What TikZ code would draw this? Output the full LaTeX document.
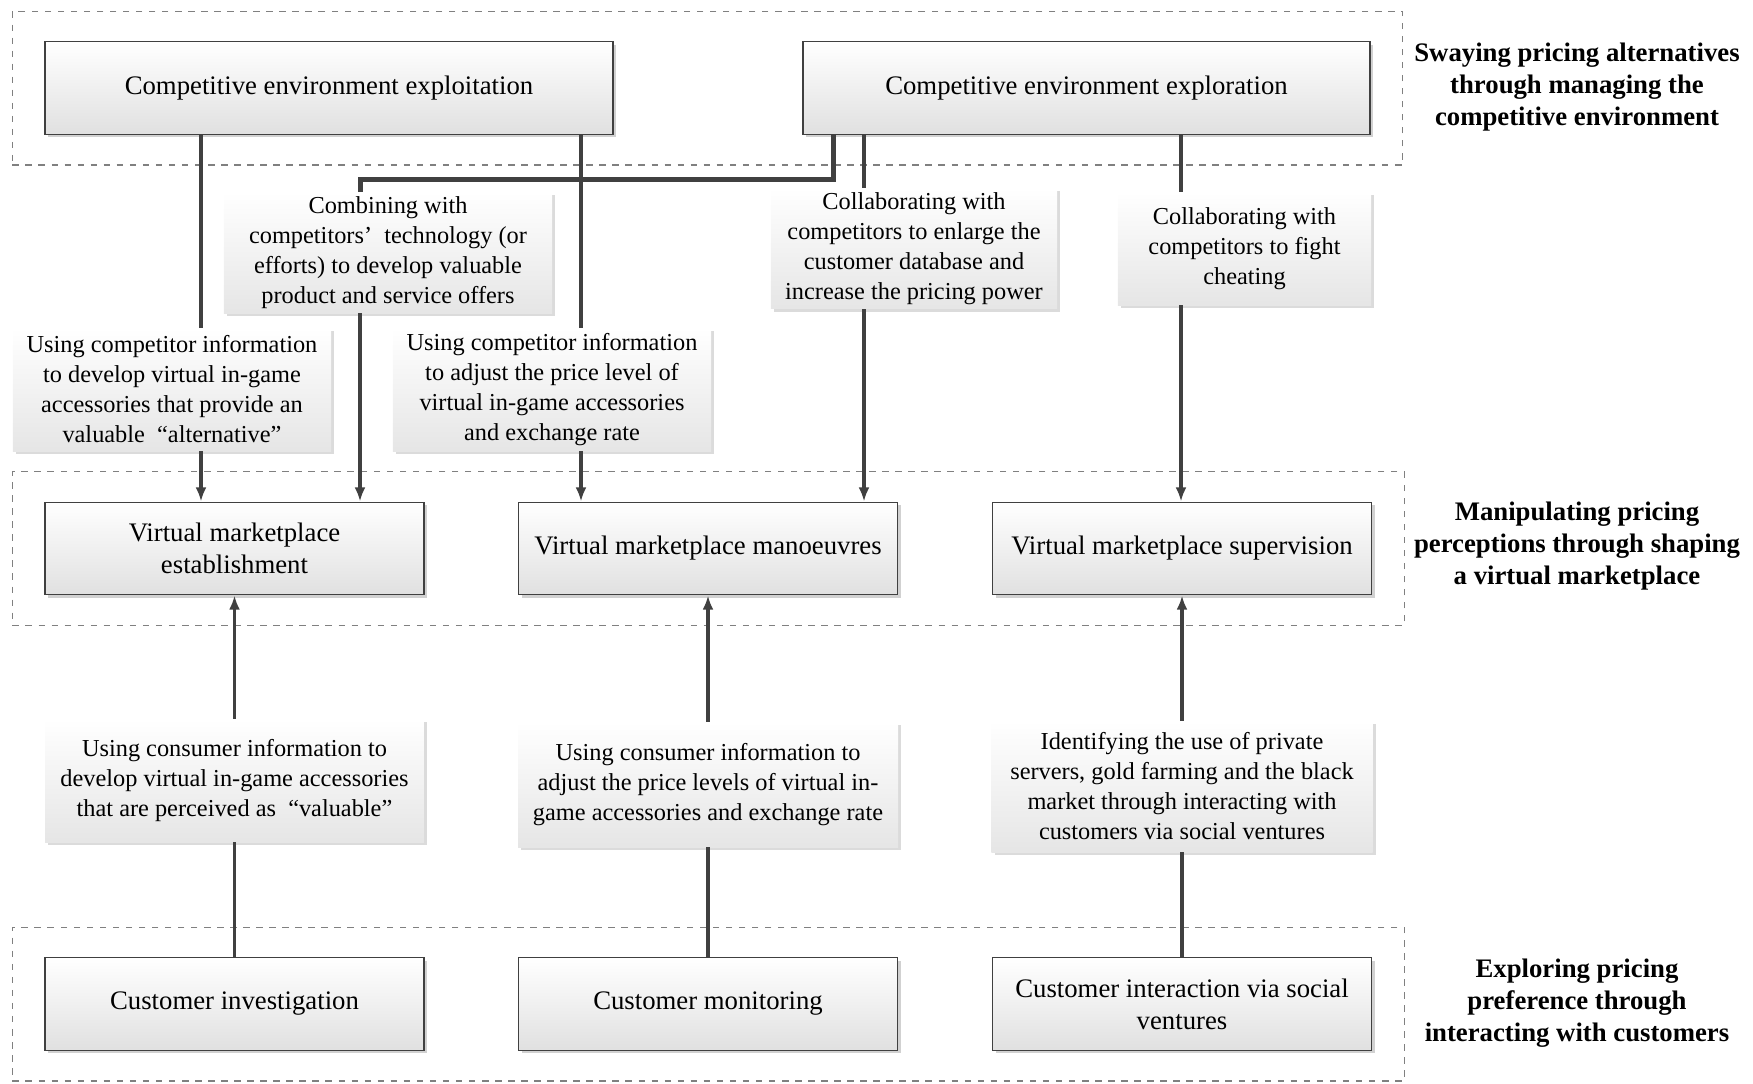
\documentclass[tikz,border=0pt]{standalone}
\usepackage{fontspec}
\setmainfont{Liberation Serif}
\usetikzlibrary{arrows.meta,fit,shadows}

\begin{document}
\begin{tikzpicture}[
  x=0.46pt, y=-0.46pt,
  font=\fontsize{12.3}{14.8}\selectfont,
  block/.style={draw=black!75, line width=.6pt, top color=white, bottom color=black!12, align=center, minimum width=#1, minimum height=42.6pt, inner sep=2pt, drop shadow={shadow xshift=1.4pt, shadow yshift=-1.4pt, fill=black!18, opacity=1}},
  block/.default=174.3pt,
  note/.style={font=\fontsize{11.2}{13.8}\selectfont, top color=white, bottom color=black!10, align=center, minimum width=#1, inner sep=2pt, drop shadow={shadow xshift=1.4pt, shadow yshift=-1.4pt, fill=black!14, opacity=1}},
  frame/.style={draw=black!50, dashed, line width=.5pt, inner xsep=14.7pt, inner ysep=13.8pt},
  phase/.style={font=\fontsize{12.3}{14.8}\selectfont\bfseries, align=center},
  link/.style={draw=black!75, line width=1.4pt},
  arrow/.style={link, -{Latex[length=6.5pt,width=5pt]}}
]
\useasboundingbox (0,0) rectangle (1753,1083);

% top tier
\node[block=261.3pt] (exploit) at (329,88) {Competitive environment exploitation};
\node[block=260.8pt] (explore) at (1086.5,88) {Competitive environment exploration};
% middle tier
\node[block] (vmest) at (234.5,548.5) {Virtual marketplace\\establishment};
\node[block] (vmman) at (708,548.5) {Virtual marketplace manoeuvres};
\node[block] (vmsup) at (1182,548.5) {Virtual marketplace supervision};
% bottom tier
\node[block] (custinv) at (234.5,1004) {Customer investigation};
\node[block] (custmon) at (708,1004) {Customer monitoring};
\node[block] (custsoc) at (1182,1004) {Customer interaction via social\\ventures};

% labels between tiers
\node[note=150.9pt, minimum height=55.7pt] (combine) at (388,252.5) {Combining with\\competitors’\enspace technology (or\\efforts) to develop valuable\\product and service offers};
\node[note=131.6pt, minimum height=52pt] (collab) at (914,248.5) {Collaborating with\\competitors to enlarge the\\customer database and\\increase the pricing power};
\node[note=116.4pt, minimum height=52pt] (cheat) at (1244.5,248.5) {Collaborating with\\competitors to fight\\cheating};
\node[note=146.3pt, minimum height=56.6pt] (compalt) at (172,389.5) {Using competitor information\\to develop virtual in-game\\accessories that provide an\\valuable\enspace“alternative”};
\node[note=146.3pt, minimum height=56.6pt] (compprice) at (552,389.5) {Using competitor information\\to adjust the price level of\\virtual in-game accessories\\and exchange rate};
\node[note=174.3pt, minimum height=56.6pt] (consval) at (234.5,780.5) {Using consumer information to\\develop virtual in-game accessories\\that are perceived as\enspace“valuable”};
\node[note=174.8pt, minimum height=57.5pt] (consprice) at (708,784.5) {Using consumer information to\\adjust the price levels of virtual in-\\game accessories and exchange rate};
\node[note=175.3pt, minimum height=60.3pt] (identify) at (1182,786.5) {Identifying the use of private\\servers, gold farming and the black\\market through interacting with\\customers via social ventures};

% dashed tiers
\node[frame, fit=(exploit)(explore)] (tiertop) {};
\node[frame, fit=(vmest)(vmsup)] (tiermid) {};
\node[frame, fit=(custinv)(custsoc)] (tierbot) {};

\node[phase] (phasetop) at (1577,87) {Swaying pricing alternatives\\through managing the\\competitive environment};
\node[phase] (phasemid) at (1577,546) {Manipulating pricing\\perceptions through shaping\\a virtual marketplace};
\node[phase] (phasebot) at (1577,1003) {Exploring pricing\\preference through\\interacting with customers};

% line positions
\coordinate (ka) at (201,0);
\coordinate (kb) at (581,0);
\coordinate (kc) at (833,0);
\coordinate (kd) at (864,0);
\coordinate (ke) at (1181,0);
\coordinate (bend) at (360,179);

% downward links
\draw[link] (exploit.south -| ka) -- (compalt.north -| ka);
\draw[arrow] (compalt.south -| ka) -- (vmest.north -| ka);
\draw[link, line width=2.3pt] (explore.south -| kc) |- (bend) -- (combine.north -| bend);
\draw[arrow] (combine.south -| bend) -- (vmest.north -| bend);
\draw[link] (exploit.south -| kb) -- (compprice.north -| kb);
\draw[arrow] (compprice.south -| kb) -- (vmman.north -| kb);
\draw[link] (explore.south -| kd) -- (collab.north -| kd);
\draw[arrow] (collab.south -| kd) -- (vmman.north -| kd);
\draw[link] (explore.south -| ke) -- (cheat.north -| ke);
\draw[arrow] (cheat.south -| ke) -- (vmsup.north -| ke);

% upward links
\draw[link] (custinv) -- (consval);
\draw[arrow] (consval) -- (vmest);
\draw[link] (custmon) -- (consprice);
\draw[arrow] (consprice) -- (vmman);
\draw[link] (custsoc) -- (identify);
\draw[arrow] (identify) -- (vmsup);
\end{tikzpicture}
\end{document}
